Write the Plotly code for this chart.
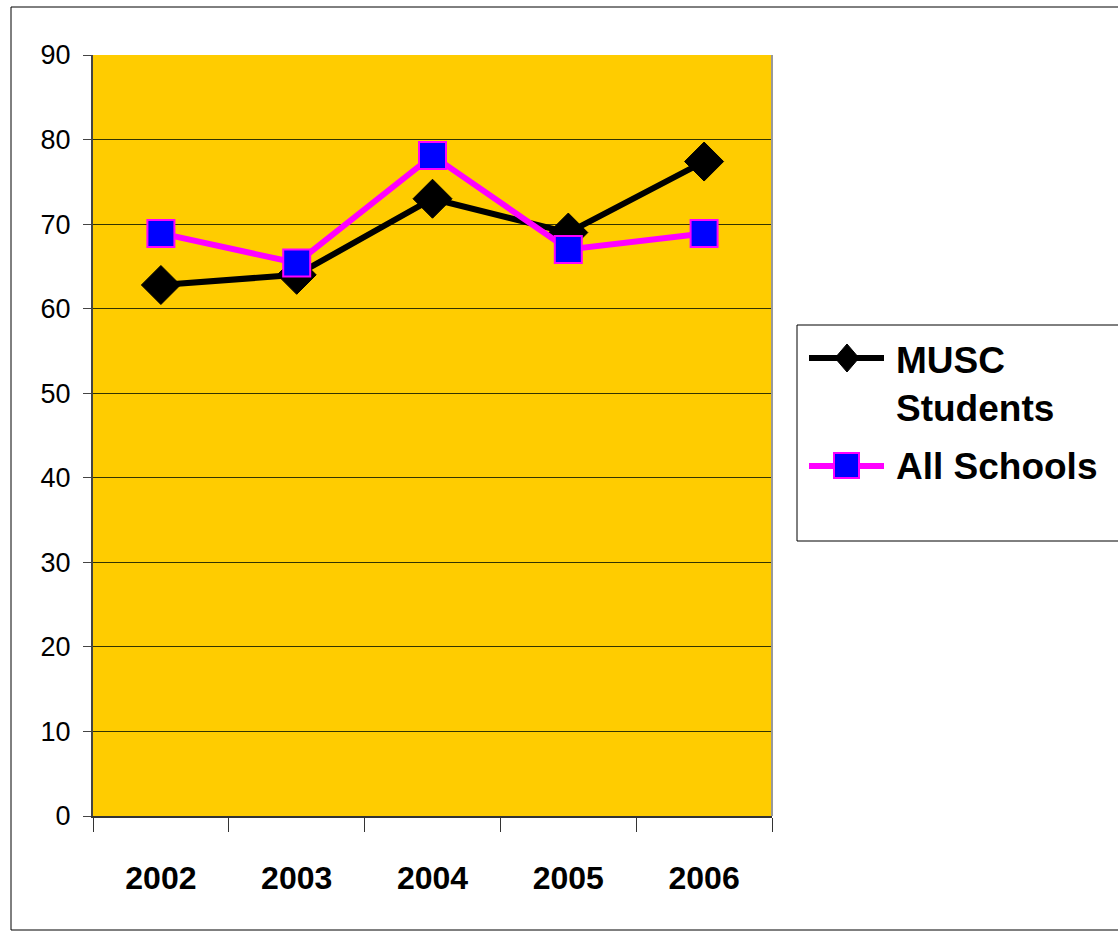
import plotly.graph_objects as go

years = ["2002", "2003", "2004", "2005", "2006"]
musc = [62.8, 64.0, 73.0, 69.0, 77.4]
all_schools = [68.9, 65.4, 78.1, 67.0, 68.9]
y_ticks = [0, 10, 20, 30, 40, 50, 60, 70, 80, 90]
legend_labels = ["MUSC", "Students", "All Schools"]

fig = go.Figure()
fig.add_trace(go.Scatter(
    x=years, y=musc, name="MUSC Students", mode="lines+markers",
    line=dict(color="black", width=6),
    marker=dict(symbol="diamond", size=30, color="black", line=dict(color="black", width=1)),
    showlegend=False,
))
fig.add_trace(go.Scatter(
    x=years, y=all_schools, name="All Schools", mode="lines+markers",
    line=dict(color="#FF00FF", width=6),
    marker=dict(symbol="square", size=27, color="#0000FF", line=dict(color="#FF00FF", width=2)),
    showlegend=False,
))

W, H = 1118, 932
l, r, t, b = 93, W - 772, 55, H - 816
pw, ph = W - l - r, H - t - b

def px_x(p):
    return (p - l) / pw

def px_y(p):
    return (H - b - p) / ph

def path(points):
    return "M" + "L".join(f"{px_x(x):.5f},{px_y(y):.5f}" for x, y in points) + "Z"

legend_font = dict(size=37, family="Liberation Sans, Arial, sans-serif", color="black", weight="bold")

shapes = [
    dict(type="rect", xref="paper", yref="paper",
         x0=1, x1=1, y0=0, y1=1, line=dict(color="#999999", width=2)),
    dict(type="rect", xref="paper", yref="paper",
         x0=px_x(11), x1=px_x(1130), y0=px_y(930), y1=px_y(7),
         line=dict(color="black", width=1), layer="below"),
    # legend box
    dict(type="rect", xref="paper", yref="paper",
         x0=px_x(797), x1=px_x(1130), y0=px_y(541), y1=px_y(325),
         line=dict(color="black", width=1), fillcolor="white"),
    # MUSC legend symbol
    dict(type="line", xref="paper", yref="paper",
         x0=px_x(809), x1=px_x(884), y0=px_y(358), y1=px_y(358),
         line=dict(color="black", width=6)),
    dict(type="path", xref="paper", yref="paper",
         path=path([(847, 344), (859, 358), (847, 372), (835, 358)]),
         fillcolor="black", line=dict(color="black", width=1)),
    # All Schools legend symbol
    dict(type="line", xref="paper", yref="paper",
         x0=px_x(809), x1=px_x(884), y0=px_y(466), y1=px_y(466),
         line=dict(color="#FF00FF", width=6)),
    dict(type="rect", xref="paper", yref="paper",
         x0=px_x(834), x1=px_x(859), y0=px_y(478), y1=px_y(453),
         fillcolor="#0000FF", line=dict(color="#FF00FF", width=2)),
]

annotations = [
    dict(text=legend_labels[0], xref="paper", yref="paper", x=px_x(894), y=px_y(360),
         xanchor="left", yanchor="middle", showarrow=False, font=legend_font),
    dict(text=legend_labels[1], xref="paper", yref="paper", x=px_x(894), y=px_y(409),
         xanchor="left", yanchor="middle", showarrow=False, font=legend_font),
    dict(text=legend_labels[2], xref="paper", yref="paper", x=px_x(894), y=px_y(466),
         xanchor="left", yanchor="middle", showarrow=False, font=legend_font),
]

fig.update_layout(
    width=W, height=H,
    margin=dict(l=l, r=r, t=t, b=b, autoexpand=False),
    paper_bgcolor="white",
    plot_bgcolor="#FFCC00",
    font=dict(family="Liberation Sans, Arial, sans-serif", color="black"),
    showlegend=False,
    xaxis=dict(
        type="category", tickson="boundaries", ticks="outside", ticklen=14,
        tickcolor="#333333", tickwidth=1,
        showline=True, linecolor="#333333", linewidth=2, mirror=False,
        showgrid=False, zeroline=False,
        tickfont=dict(size=32, weight="bold", family="Liberation Sans, Arial, sans-serif"),
        ticklabelstandoff=33, range=[-0.5, 4.5],
    ),
    yaxis=dict(
        range=[0, 90], tickvals=y_ticks, ticks="outside", ticklen=8,
        tickcolor="#444444", tickwidth=1,
        showline=True, linecolor="#444444", linewidth=2,
        showgrid=True, gridcolor="#333300", gridwidth=1, zeroline=False,
        tickfont=dict(size=27), ticklabelstandoff=7,
    ),
    shapes=shapes,
    annotations=annotations,
)

fig.write_html("out.html")
